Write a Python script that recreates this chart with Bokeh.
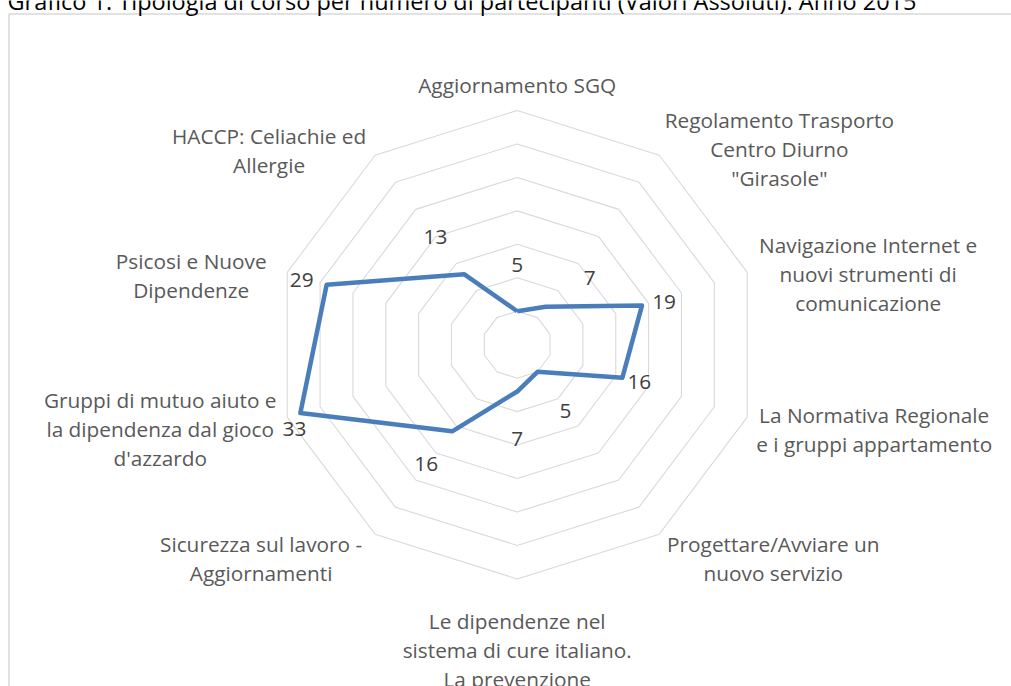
import numpy as np
from bokeh.plotting import figure
from bokeh.models import Range1d, ColumnDataSource
from bokeh.embed import file_html
from bokeh.resources import INLINE
from bokeh.core.properties import value

# ---------------- data ----------------
title_text = "Grafico 1. Tipologia di corso per numero di partecipanti (Valori Assoluti). Anno 2015"
categories = [
    "Aggiornamento SGQ",
    "Regolamento Trasporto\nCentro Diurno\n\"Girasole\"",
    "Navigazione Internet e\nnuovi strumenti di\ncomunicazione",
    "La Normativa Regionale\ne i gruppi appartamento",
    "Progettare/Avviare un\nnuovo servizio",
    "Le dipendenze nel\nsistema di cure italiano.\nLa prevenzione",
    "Sicurezza sul lavoro -\nAggiornamenti",
    "Gruppi di mutuo aiuto e\nla dipendenza dal gioco\nd'azzardo",
    "Psicosi e Nuove\nDipendenze",
    "HACCP: Celiachie ed\nAllergie",
]
values = [5, 7, 19, 16, 5, 7, 16, 33, 29, 13]
ring_levels = [5, 10, 15, 20, 25, 30, 35]

# ---------------- layout / style ----------------
W, H = 1011, 686
KX, KY = 241.8 / 35, 234.2 / 35          # px per unit
CX, CY = 516.7, 344.2                     # centre in canvas px
FONT = "Open Sans"
LBL_SIZE = 20.8
LINE_H = 1.035

# pixel offsets of category label block centres from outer vertex (dx, dy downwards)
cat_off = [(0, -26), (120, -6), (121, 2), (127, 12), (114, 24),
           (0, 71), (-114, 24), (-127, 12), (-96, 3), (-106, -5)]
# pixel offsets of value labels from their points
val_off = [(0, -46), (44, -29), (22, -3), (17, 4), (28, 39),
           (0, 47), (-26, 33), (-6, 16), (-25, -5), (-29, -37)]

x0 = -CX / KX
y1 = CY / KY
p = figure(width=W, height=H, output_backend="svg", toolbar_location=None,
           x_range=Range1d(x0, x0 + W / KX), y_range=Range1d(y1 - H / KY, y1),
           title=None, x_axis_location=None, y_axis_location=None,
           min_border=0, border_fill_color="white", background_fill_color="white")
p.grid.visible = False
p.outline_line_color = None


def px(x):   # canvas px -> data x (decoration only)
    return (x - CX) / KX


def py(y):   # canvas px -> data y (decoration only)
    return (CY - y) / KY


n = len(categories)
theta = np.arange(n) * 2 * np.pi / n
sx, cy = np.sin(theta), np.cos(theta)

# chart frame (grey border, partially outside the window)
p.line([px(8.5), px(8.5), px(W + 20)], [py(H + 20), py(13.5), py(13.5)],
       line_color="#D9D9D9", line_width=1.5)

# title (top part clipped as in the reference)
p.text(x=[px(7)], y=[py(0)], text=[title_text], text_font=value(FONT),
       text_font_size="23.5px", text_color="#000000", text_baseline="alphabetic",
       text_align="left")

# rings
xs = [list(np.append(r * sx, r * sx[0])) for r in ring_levels]
ys = [list(np.append(r * cy, r * cy[0])) for r in ring_levels]
p.multi_line(xs, ys, line_color="#D9D9D9", line_width=1.1)

# series
v = np.array(values, dtype=float)
p.line(list(np.append(v * sx, v[0] * sx[0])), list(np.append(v * cy, v[0] * cy[0])),
       line_color="#4A7EBB", line_width=4.5, line_join="round")

# value labels
vsrc = ColumnDataSource(dict(x=v * sx, y=v * cy, t=[str(a) for a in values],
                             dx=[o[0] for o in val_off], dy=[o[1] for o in val_off]))
p.text(x="x", y="y", text="t", x_offset="dx", y_offset="dy", source=vsrc,
       text_font=value(FONT), text_font_size=f"{LBL_SIZE}px", text_color="#404040",
       text_align="center", text_baseline="middle")

# category labels
R = max(ring_levels)
csrc = ColumnDataSource(dict(x=R * sx, y=R * cy, t=categories,
                             dx=[o[0] for o in cat_off], dy=[o[1] for o in cat_off]))
p.text(x="x", y="y", text="t", x_offset="dx", y_offset="dy", source=csrc,
       text_font=value(FONT), text_font_size=f"{LBL_SIZE}px", text_color="#595959",
       text_align="center", text_baseline="middle",
       text_line_height=LINE_H)

open("out.html", "w").write(file_html(p, INLINE))
